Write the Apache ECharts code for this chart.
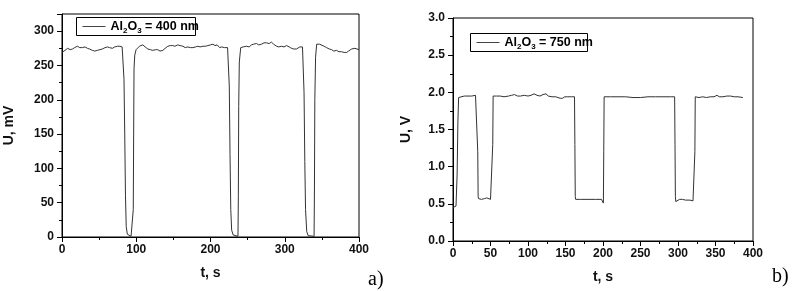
<!DOCTYPE html>
<html><head><meta charset="utf-8">
<script src="https://cdn.jsdelivr.net/npm/echarts@6/dist/echarts.min.js"></script>
<style>html,body{margin:0;padding:0;background:#fff}#c{width:793px;height:291px}</style>
</head><body><div id="c"></div>
<script>
const nameA = "Al2O3 = 400 nm";
const nameB = "Al2O3 = 750 nm";
const timesA = [0,4,7.6,11,14,17,20.7,24,27.4,31,34.2,37,40.9,44,47.6,51,54.4,58,61.1,64,67.9,71,74.6,78,81,82.6,
 83.5,84.5,85.5,86.5,88,90,93,95.5,96,96.5,97,98,
 99.8,104.3,108.8,112,115.6,119,122.3,126,129,132,135.8,139,142.5,146,149.3,152,156,159,162.8,166,169.5,173,176.3,180,183,186,189.8,193,196.5,200,203.3,206,209,212.3,215,219,223,224.4,
 225.3,226.3,227.3,228.5,230.5,233,237,237.5,238,238.8,240.7,
 244,248.4,252,255.2,258,261.9,265,268.6,272,275.4,279,282.1,285,288.9,292,295.6,299,302.4,306,309.1,312,315.8,318,320.3,323.9,325,
 326,327,328,329.6,331.5,334,339.5,340,340.5,341.5,343,
 345,347,349.6,353,356.3,360,363.1,366,369.8,373,376.5,380,383.3,386,390,394.5,397,400];
const valuesA = [269,272,275,273,274,276,278,276,276,277,275,274,272,271,272,273,274,276,277,276,275,277,278,278,277,276,
 230,150,60,15,4,1.5,1,1,40,150,245,265,
 273,278,280,277,274,273,272,273,273,271,272,275,278,279,279,278,280,279,278,276,277,276,276,277,278,277,278,278,279,280,281,279,280,276,277,276,276,276,
 220,120,40,10,3,1,1,60,190,255,276,
 277,278,277,280,281,282,280,281,283,283,282,284,281,278,277,278,277,279,277,275,274,274,276,277,277,276,
 210,110,40,8,2,1,1,70,200,262,281,
 282,281,281,278,276,274,273,271,272,270,270,269,269,271,274,275,274,273];
const timesB = [0,2,4,5.5,6.5,7.5,10,15,20,25,30,32.5,33,33.5,34,38,42,45,47,50,51.5,52.5,53,53.5,
 58,63,68,74,78,82,86,90,95,100,104,108,112,116,120,124,127,132,137,140,143,146,149,153,158,162,
 162.5,163,163.5,170,180,190,198,199.5,200.5,201,201.5,
 210,220,230,240,250,260,270,280,290,295.5,296,296.5,297,298,302,306,310,316,320,322,322.5,323,
 328,333,338,343,348,352,355,360,365,370,375,380,386.5];
const valuesB = [0.45,0.46,0.47,0.9,1.6,1.93,1.94,1.95,1.95,1.95,1.96,1.96,1.2,0.6,0.57,0.56,0.57,0.58,0.56,0.56,0.55,0.58,1.3,1.95,
 1.95,1.95,1.94,1.95,1.96,1.97,1.95,1.95,1.96,1.95,1.96,1.98,1.96,1.95,1.97,1.98,1.95,1.94,1.94,1.93,1.92,1.92,1.94,1.94,1.94,1.94,
 1.3,0.6,0.56,0.56,0.56,0.56,0.56,0.55,0.51,1.2,1.94,
 1.94,1.94,1.94,1.93,1.93,1.94,1.94,1.94,1.94,1.94,1.3,0.6,0.53,0.55,0.56,0.56,0.55,0.55,0.54,0.52,1.2,1.94,
 1.93,1.94,1.93,1.94,1.94,1.96,1.94,1.94,1.95,1.95,1.94,1.94,1.93];

const zip = (a,b) => a.map((t,i)=>[t,b[i]]);
const FONT = "Liberation Sans";
const W = 'bold';
const lab = {color:'#111', fontFamily:FONT, fontSize:12, fontWeight:W};
const richText = n => n.replace(/^Al2O3(.*)$/, '{n|Al}{s|2}{n|O}{s|3}{n|$1}');
const rich = { n:{fontFamily:FONT,fontSize:12.5,fontWeight:W,color:'#111',lineHeight:16}, s:{fontFamily:FONT,fontSize:8,fontWeight:W,color:'#111',lineHeight:16,padding:[8,0,0,0]} };
function legendGroup(x,y,w,h,name){
  return {type:'group', left:x, top:y, silent:true, children:[
    {type:'rect', shape:{x:0,y:0,width:w,height:h}, style:{fill:'#fff',stroke:'#000',lineWidth:1}},
    {type:'line', shape:{x1:6,y1:h/2,x2:29,y2:h/2}, style:{stroke:'#444',lineWidth:1}},
    {type:'text', x:34, y:h/2, style:{text:richText(name), rich:rich, verticalAlign:'middle', fill:'#000'}}
  ]};
}
function xAx(gi, interval){
  return {type:'value', gridIndex:gi, min:0, max:400, interval:interval,
    axisLine:{show:true,onZero:false,lineStyle:{color:'#000',width:1}},
    axisTick:{show:true,inside:false,length:5,lineStyle:{color:'#000'}},
    minorTick:{show:true,splitNumber:2,length:3,lineStyle:{color:'#000'}},
    splitLine:{show:false}, axisLabel:Object.assign({margin:7},lab),
    name:'t, s', nameLocation:'middle', nameGap:29, nameTextStyle:{color:'#111',fontFamily:FONT,fontSize:14,fontWeight:W}};
}
function yAx(gi, max, interval, name, gap){
  return {type:'value', gridIndex:gi, min:0, max:max, interval:interval,
    axisLine:{show:true,onZero:false,lineStyle:{color:'#000',width:1}},
    axisTick:{show:true,inside:false,length:5,lineStyle:{color:'#000'}},
    minorTick:{show:true,splitNumber:2,length:3,lineStyle:{color:'#000'}},
    splitLine:{show:false},
    axisLabel:Object.assign({margin:8, showMaxLabel: max===3, formatter: v => max===3 ? v.toFixed(1) : String(v)},lab),
    name:name, nameLocation:'middle', nameGap:gap, nameTextStyle:{color:'#111',fontFamily:FONT,fontSize:14,fontWeight:W}};
}
const chart = echarts.init(document.getElementById('c'), null, {renderer:'canvas'});
chart.setOption({
  backgroundColor:'#fff',
  animation:false,
  grid:[
    {left:62, top:14, width:297, height:223, show:true, borderColor:'#000', borderWidth:1, containLabel:false},
    {left:453, top:18, width:300, height:223, show:true, borderColor:'#000', borderWidth:1, containLabel:false}
  ],
  xAxis:[xAx(0,100), xAx(1,50)],
  yAxis:[yAx(0,325,50,'U, mV',46), yAx(1,3,0.5,'U, V',40)],
  series:[
    {name:nameA, type:'line', xAxisIndex:0, yAxisIndex:0, data:zip(timesA,valuesA), symbol:'none', lineStyle:{color:'#333',width:1}, itemStyle:{color:'#333'}},
    {name:nameB, type:'line', xAxisIndex:1, yAxisIndex:1, data:zip(timesB,valuesB), symbol:'none', lineStyle:{color:'#333',width:1}, itemStyle:{color:'#333'}}
  ],
  graphic:[
    legendGroup(76,17,119,18,nameA),
    legendGroup(470,33,117,18,nameB),
    {type:'text', left:368, top:270, style:{text:'a)', fill:'#000', font:'20px "Liberation Serif"'}},
    {type:'text', left:772, top:267, style:{text:'b)', fill:'#000', font:'20px "Liberation Serif"'}}
  ]
});
</script></body></html>
